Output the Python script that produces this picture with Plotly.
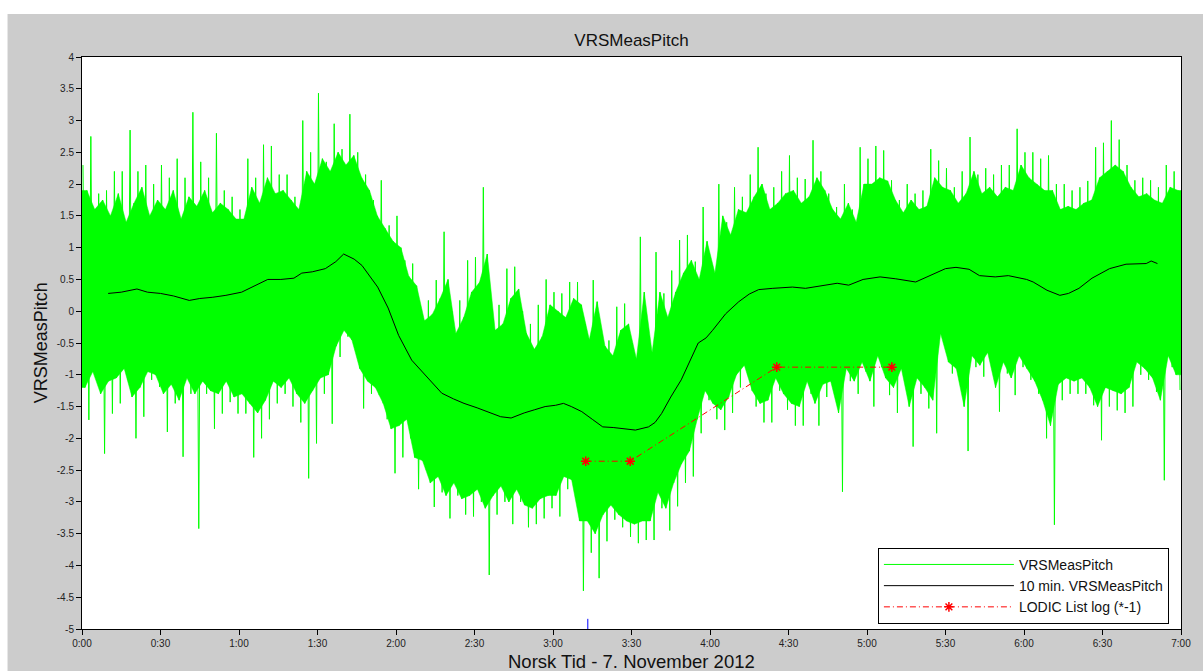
import plotly.graph_objects as go

# ---------------- data ----------------
# time axis in minutes after 0:00
x_tick_vals = [0, 30, 60, 90, 120, 150, 180, 210, 240, 270, 300, 330, 360, 390, 420]
x_tick_text = ["0:00", "0:30", "1:00", "1:30", "2:00", "2:30", "3:00", "3:30",
               "4:00", "4:30", "5:00", "5:30", "6:00", "6:30", "7:00"]
y_tick_vals = [-5, -4.5, -4, -3.5, -3, -2.5, -2, -1.5, -1, -0.5, 0, 0.5, 1, 1.5, 2, 2.5, 3, 3.5, 4]
y_tick_text = ["-5", "-4.5", "-4", "-3.5", "-3", "-2.5", "-2", "-1.5", "-1", "-0.5", "0",
               "0.5", "1", "1.5", "2", "2.5", "3", "3.5", "4"]

# raw VRSMeasPitch: per 3-minute bin, highest / second highest / second lowest / lowest excursion
raw_bin_minutes = 3
raw_high = [
    2.3, 2.75, 1.85, 1.9, 2.2, 2.2, 2.85, 2.2, 2.3, 2.0, 2.3, 2.1, 2.4, 2.1, 3.13, 2.35, 2.1, 2.8, 1.9, 1.8,
    1.6, 2.4, 2.1, 2.62, 2.6, 2.15, 2.15, 1.8, 3.0, 2.5, 3.43, 2.35, 2.95, 2.55, 3.1, 2.5, 2.15, 1.75, 2.06, 1.35,
    1.5, 0.8, 0.75, 0.04, 0.17, 0.49, 1.25, 0.0, 0.17, 0.8, 0.85, 1.95, 0.0, 0.1, 0.67, 0.7, 0.0, -0.2, 0.1, 0.5,
    0.3, 0.28, 0.46, 0.46, -0.2, 0.49, -0.3, -0.46, 0.07, 0.12, -0.5, 1.17, -0.4, 0.93, 0.28, 0.64, 1.12, 1.2, 0.78, 1.64,
    0.75, 2.0, 1.4, 1.95, 1.8, 2.15, 2.58, 1.85, 1.95, 2.2, 2.45, 2.1, 2.08, 2.69, 2.2, 1.85, 1.64, 2.0, 1.6, 2.58,
    2.4, 2.6, 2.53, 2.06, 1.75, 2.0, 1.85, 1.9, 2.55, 2.37, 2.25, 1.95, 2.2, 2.74, 2.15, 2.25, 2.15, 2.3, 2.3, 2.87,
    2.5, 2.5, 2.4, 2.45, 2.0, 2.0, 1.9, 1.95, 2.05, 2.58, 2.65, 3.0, 2.7, 2.3, 2.06, 2.1, 2.06, 1.95, 2.3, 2.2,
]
raw_high2 = [
    1.9, 1.6, 1.75, 1.5, 1.85, 1.4, 1.7, 1.95, 1.5, 1.75, 1.6, 1.9, 1.45, 1.8, 1.65, 1.9, 1.55, 1.7, 1.6, 1.45,
    1.45, 1.95, 1.7, 2.1, 1.85, 1.9, 1.75, 1.6, 2.2, 2.0, 2.4, 2.2, 2.5, 2.3, 2.45, 2.1, 1.9, 1.5, 1.3, 1.1,
    1.0, 0.55, 0.4, -0.15, -0.05, 0.2, 0.5, -0.35, -0.1, 0.3, 0.45, 0.9, -0.3, -0.2, 0.2, 0.35, -0.35, -0.6, -0.4, 0.1,
    0.0, -0.1, 0.2, 0.1, -0.45, 0.15, -0.55, -0.7, -0.3, -0.2, -0.75, 0.3, -0.65, 0.3, -0.1, 0.3, 0.6, 0.8, 0.5, 1.1,
    0.6, 1.5, 1.2, 1.6, 1.55, 1.8, 2.0, 1.6, 1.7, 1.85, 1.9, 1.7, 1.8, 2.1, 1.9, 1.6, 1.45, 1.7, 1.4, 2.0,
    2.0, 2.1, 2.05, 1.75, 1.55, 1.75, 1.6, 1.65, 2.1, 1.95, 1.9, 1.7, 1.85, 2.2, 1.85, 1.95, 1.8, 1.95, 1.9, 2.3,
    2.1, 2.0, 1.9, 1.9, 1.6, 1.65, 1.6, 1.7, 1.75, 2.1, 2.2, 2.3, 2.2, 1.95, 1.8, 1.85, 1.75, 1.7, 1.95, 1.9,
]
raw_low2 = [
    -1.2, -0.95, -1.3, -1.1, -1.05, -0.9, -1.35, -1.2, -0.95, -1.0, -1.3, -1.15, -1.4, -1.05, -1.3, -1.1, -1.25, -1.3, -1.1, -1.35,
    -1.3, -1.45, -1.6, -1.4, -1.1, -1.2, -1.05, -1.3, -1.45, -1.25, -1.05, -1.0, -0.55, -0.3, -0.45, -0.9, -1.1, -1.2, -1.45, -1.85,
    -1.8, -1.7, -2.3, -2.35, -2.7, -2.6, -2.9, -2.7, -2.95, -2.9, -2.8, -3.1, -2.9, -2.75, -3.0, -2.8, -3.05, -3.1, -2.95, -2.9,
    -2.9, -2.6, -2.65, -3.3, -3.3, -3.5, -3.2, -3.05, -3.2, -3.3, -3.35, -3.3, -3.3, -2.85, -3.1, -2.7, -2.4, -2.2, -1.7, -1.25,
    -1.45, -1.55, -1.35, -1.0, -0.85, -1.25, -1.45, -1.4, -1.05, -1.3, -1.45, -1.5, -1.1, -1.45, -1.15, -1.1, -1.6, -0.9, -1.1, -0.8,
    -1.1, -0.7, -1.05, -1.2, -0.9, -1.5, -1.05, -1.2, -1.4, -0.35, -0.8, -0.9, -1.5, -0.7, -0.85, -0.65, -1.2, -0.8, -1.05, -0.7,
    -0.9, -1.1, -1.4, -1.8, -1.15, -1.05, -1.1, -1.05, -1.2, -1.5, -1.2, -1.25, -1.3, -1.2, -0.8, -0.9, -1.05, -1.4, -0.7, -1.0,
]
raw_low = [
    -1.71, -1.03, -2.24, -1.61, -1.45, -1.08, -2.0, -1.66, -1.08, -1.19, -1.9, -1.45, -2.29, -1.3, -3.42, -1.3, -1.85, -1.61, -1.43, -1.61,
    -1.61, -2.3, -2.0, -1.7, -1.45, -1.3, -1.5, -1.75, -2.63, -2.08, -1.3, -1.77, -0.72, -0.4, -0.6, -1.53, -1.3, -1.32, -1.7, -2.55,
    -2.3, -2.0, -2.8, -2.5, -3.08, -2.85, -3.26, -2.9, -3.2, -3.23, -3.0, -4.15, -3.2, -3.0, -3.35, -3.0, -3.4, -3.35, -3.26, -3.1,
    -3.23, -2.8, -2.8, -4.4, -3.8, -4.2, -3.62, -3.28, -3.4, -3.55, -3.65, -3.6, -3.6, -3.1, -3.45, -3.07, -2.7, -2.6, -1.92, -1.4,
    -1.7, -1.87, -1.6, -1.2, -1.0, -1.5, -1.75, -1.75, -1.25, -1.55, -1.8, -1.8, -1.3, -1.8, -1.35, -1.3, -2.84, -1.1, -1.3, -0.95,
    -1.5, -0.88, -1.32, -1.6, -1.08, -2.13, -1.3, -1.53, -1.92, -0.46, -0.98, -1.08, -2.2, -0.88, -1.03, -0.82, -1.58, -0.98, -1.32, -0.88,
    -1.08, -1.3, -2.0, -3.36, -1.4, -1.3, -1.3, -1.3, -1.48, -2.03, -1.5, -1.56, -1.6, -1.5, -1.0, -1.08, -1.27, -2.66, -0.88, -1.24,
]

# 10 min. VRSMeasPitch (moving average)
avg_minutes = [10, 15, 21, 25, 30, 35, 41, 45, 50, 55, 61, 65, 71, 76, 81, 84, 88, 93, 97, 100, 104, 107,
               110, 113, 117, 121, 126, 132, 137.5, 142, 146, 151, 156.5, 160, 164, 169, 173, 177, 181,
               184, 187, 191, 195, 199, 203, 207, 211.5, 216.5, 219, 221.5, 225, 229, 232, 235.5, 238.5,
               241, 246, 251, 255, 258.6, 264, 271.5, 276.5, 283, 288.6, 293, 298.5, 305, 311, 318.6,
               324, 330, 334, 339, 343, 349, 354, 361, 363.5, 368.8, 373.7, 377, 381, 386, 392.7, 399,
               406.7, 408.6, 411]
avg_values = [0.28, 0.3, 0.35, 0.3, 0.28, 0.24, 0.17, 0.2, 0.22, 0.25, 0.3, 0.38, 0.5, 0.5, 0.52, 0.6,
              0.62, 0.67, 0.78, 0.9, 0.82, 0.72, 0.55, 0.38, 0.05, -0.38, -0.77, -1.05, -1.29, -1.38,
              -1.45, -1.52, -1.6, -1.66, -1.68, -1.6, -1.55, -1.5, -1.48, -1.45, -1.5, -1.58, -1.7,
              -1.82, -1.83, -1.85, -1.87, -1.82, -1.75, -1.61, -1.35, -1.08, -0.8, -0.5, -0.42, -0.3,
              -0.04, 0.15, 0.27, 0.34, 0.36, 0.38, 0.36, 0.4, 0.44, 0.41, 0.5, 0.54, 0.51, 0.46, 0.56,
              0.67, 0.69, 0.66, 0.56, 0.54, 0.56, 0.5, 0.46, 0.33, 0.25, 0.28, 0.36, 0.52, 0.67, 0.74,
              0.75, 0.79, 0.75]

# LODIC List log (*-1)
lodic_minutes = [192.5, 209.5, 265.5, 309.5]
lodic_values = [-2.36, -2.36, -0.88, -0.88]

# event marker on the time axis
event_minute = 193.3
event_span = [-5.0, -4.84]

# ---------------- build the raw-signal shapes from the bins ----------------
n_bins = len(raw_high)
bin_start = [i * raw_bin_minutes for i in range(n_bins)]

# dense body: polygon between the secondary excursions
band_x = [t + 1.875 for t in bin_start] + [t + 1.125 for t in reversed(bin_start)]
band_y = list(raw_high2) + list(reversed(raw_low2))
band_x = [0] + band_x[:n_bins] + [420, 420] + band_x[n_bins:] + [0]
band_y = [raw_high2[0]] + band_y[:n_bins] + [raw_high2[-1], raw_low2[-1]] + band_y[n_bins:] + [raw_low2[0]]

# spikes: polyline through all excursions
raw_x, raw_y = [], []
for i, t in enumerate(bin_start):
    raw_x += [t + 0.375, t + 1.125, t + 1.875, t + 2.625]
    raw_y += [raw_high[i], raw_low2[i], raw_high2[i], raw_low[i]]

GREEN = "#00FF00"
FONT = "Liberation Sans, Arial, sans-serif"

fig = go.Figure()

fig.add_trace(go.Scatter(x=band_x, y=band_y, mode="lines", fill="toself", fillcolor=GREEN,
                         line=dict(width=0.5, color=GREEN), showlegend=False, hoverinfo="skip"))
fig.add_trace(go.Scatter(x=raw_x, y=raw_y, mode="lines", name="VRSMeasPitch",
                         line=dict(color=GREEN, width=1)))
fig.add_trace(go.Scatter(x=avg_minutes, y=avg_values, mode="lines", name="10 min. VRSMeasPitch",
                         line=dict(color="black", width=1)))
fig.add_trace(go.Scatter(x=lodic_minutes, y=lodic_values, mode="lines+markers", name="LODIC List log (*-1)",
                         line=dict(color="red", width=1, dash="6px,3px,1px,3px"),
                         marker=dict(symbol="asterisk", size=8, color="red",
                                     line=dict(color="red", width=1.5))))
fig.add_trace(go.Scatter(x=[event_minute, event_minute], y=event_span, mode="lines",
                         line=dict(color="blue", width=1), showlegend=False, hoverinfo="skip"))

axis_common = dict(showline=True, linecolor="black", linewidth=1, mirror=True, showgrid=False,
                   zeroline=False, ticks="outside", ticklen=5, tickcolor="black",
                   tickfont=dict(family=FONT, size=10, color="#222222"))

fig.update_layout(
    width=1203, height=671,
    margin=dict(l=82, r=14, t=57, b=42),
    paper_bgcolor="#CCCCCC",
    plot_bgcolor="white",
    font=dict(family=FONT, color="#111111"),
    title=dict(text="VRSMeasPitch", x=0.5, xref="paper", xanchor="center",
               y=1 - 40 / 671, yref="container", yanchor="middle",
               font=dict(family=FONT, size=17, color="#111111")),
    xaxis=dict(range=[0, 420], tickmode="array", tickvals=x_tick_vals, ticktext=x_tick_text,
               **axis_common),
    yaxis=dict(range=[-5, 4], tickmode="array", tickvals=y_tick_vals, ticktext=y_tick_text,
               **axis_common),
    legend=dict(x=0.989, y=0.009, xanchor="right", yanchor="bottom", bgcolor="white",
                bordercolor="black", borderwidth=1, tracegroupgap=0, itemwidth=130,
                traceorder="normal",
                font=dict(family=FONT, size=14, color="#111111")),
    shapes=[
        dict(type="rect", xref="paper", yref="paper", x0=-0.1, x1=1.1,
             y0=(629 - 14) / 572, y1=1.2, fillcolor="white", line=dict(width=0), layer="above"),
        dict(type="rect", xref="paper", yref="paper", x0=-0.1, x1=(7 - 82) / 1107,
             y0=-0.2, y1=1.2, fillcolor="white", line=dict(width=0), layer="above"),
    ],
    annotations=[
        dict(text="VRSMeasPitch", xref="paper", yref="paper", x=(41 - 82) / 1107, y=0.5,
             xanchor="center", yanchor="middle", textangle=-90, showarrow=False,
             font=dict(family=FONT, size=18, color="#111111")),
        dict(text="Norsk Tid - 7. November 2012", xref="paper", yref="paper", x=0.5,
             y=(629 - 661) / 572, xanchor="center", yanchor="middle", showarrow=False,
             font=dict(family=FONT, size=18.5, color="#111111")),
    ],
)

fig.write_html("out.html")
